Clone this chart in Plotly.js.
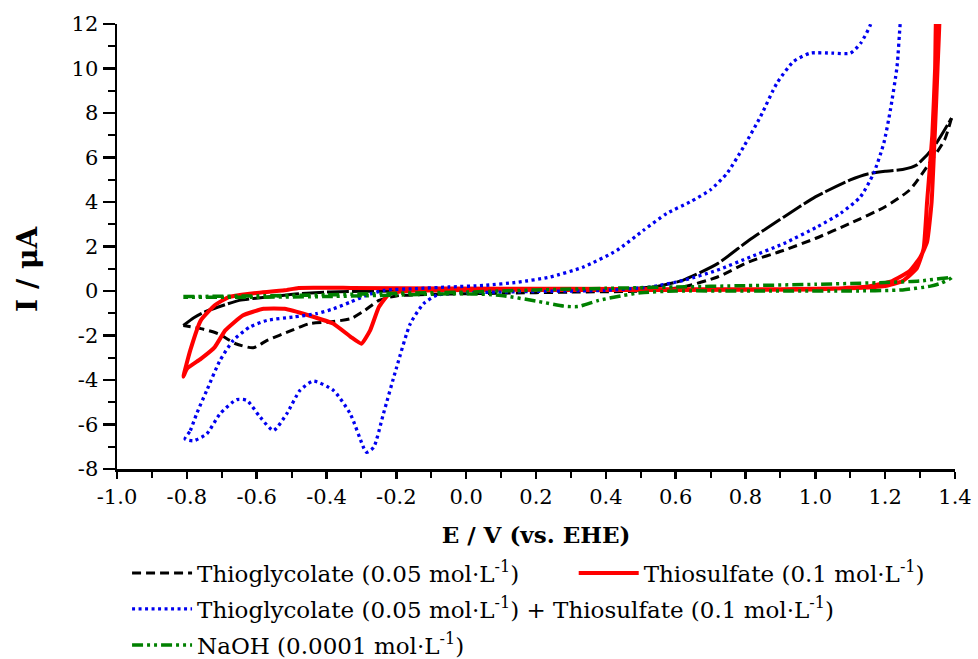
<!DOCTYPE html>
<html><head><meta charset="utf-8">
<script src="https://cdn.plot.ly/plotly-3.0.1.min.js"></script>
<style>body{margin:0;background:#fff}</style>
</head><body>
<div id="chart" style="width:978px;height:659px"></div>
<script>
// ---------- data (E in V vs. EHE, I in µA) ----------
const seriesNames = [
  "Thioglycolate (0.05 mol·L<sup>-1</sup>)",
  "Thiosulfate (0.1 mol·L<sup>-1</sup>)",
  "Thioglycolate (0.05 mol·L<sup>-1</sup>) + Thiosulfate (0.1 mol·L<sup>-1</sup>)",
  "NaOH (0.0001 mol·L<sup>-1</sup>)"
];

// Thioglycolate: forward (anodic) scan
const thioglyFwdE = [-0.81, -0.78, -0.75, -0.71, -0.65, -0.57, -0.48, -0.39, -0.2, 0.0, 0.2, 0.4, 0.5, 0.55, 0.62, 0.72, 0.81, 0.91, 1.0, 1.1, 1.15, 1.2, 1.25, 1.29, 1.34, 1.39];
const thioglyFwdI = [-1.55, -1.2, -0.95, -0.72, -0.42, -0.27, -0.12, -0.04, 0.0, 0.05, 0.08, 0.1, 0.13, 0.22, 0.48, 1.23, 2.28, 3.33, 4.23, 4.99, 5.26, 5.38, 5.46, 5.66, 6.49, 7.77];
// Thioglycolate: reverse (cathodic) scan
const thioglyRevE = [1.39, 1.37, 1.32, 1.27, 1.2, 1.1, 1.0, 0.91, 0.81, 0.72, 0.62, 0.5, 0.3, 0.1, -0.1, -0.2, -0.25, -0.29, -0.33, -0.39, -0.45, -0.5, -0.57, -0.61, -0.66, -0.71, -0.76, -0.81];
const thioglyRevI = [7.77, 6.79, 5.59, 4.54, 3.79, 3.04, 2.36, 1.83, 1.31, 0.63, 0.18, 0.0, -0.05, -0.1, -0.15, -0.22, -0.42, -0.87, -1.24, -1.39, -1.47, -1.77, -2.22, -2.55, -2.37, -1.92, -1.69, -1.55];

// Thiosulfate: full loop
const thiosulfE = [-0.81, -0.79, -0.76, -0.72, -0.68, -0.62, -0.52, -0.48, -0.33, -0.05, 0.3, 0.6, 0.9, 1.1, 1.2, 1.25, 1.29, 1.31, 1.32, 1.335, 1.343, 1.35,
                   1.357, 1.35, 1.342, 1.333, 1.32, 1.3, 1.27, 1.22, 1.15, 1.0, 0.6, 0.2, 0.0, -0.15, -0.22, -0.25, -0.275, -0.3, -0.33, -0.38, -0.45, -0.52, -0.58, -0.64, -0.69, -0.72, -0.76, -0.8, -0.81];
const thiosulfI = [-3.85, -2.66, -1.32, -0.64, -0.27, -0.12, 0.03, 0.14, 0.14, 0.11, 0.1, 0.08, 0.08, 0.12, 0.22, 0.45, 1.0, 1.9, 4.0, 7.0, 10.0, 14.0,
                   14.0, 10.0, 7.0, 4.0, 2.2, 1.5, 0.9, 0.45, 0.2, 0.07, 0.05, 0.05, 0.05, 0.02, -0.12, -0.72, -1.77, -2.37, -2.07, -1.47, -1.1, -0.8, -0.8, -1.1, -1.77, -2.52, -3.05, -3.5, -3.85];

// Thioglycolate + Thiosulfate: full loop
const mixE = [-0.805, -0.79, -0.772, -0.743, -0.705, -0.667, -0.62, -0.57, -0.495, -0.43, -0.38, -0.332, -0.285, -0.237, -0.14, -0.05, 0.05, 0.15, 0.24, 0.336, 0.432, 0.508, 0.575, 0.642, 0.699, 0.747, 0.795, 0.843, 0.89, 0.938, 0.986, 1.05, 1.1, 1.13, 1.158, 1.175, 1.2,
              1.25, 1.25, 1.243, 1.234, 1.215, 1.196, 1.167, 1.129, 1.072, 1.005, 0.909, 0.814, 0.718, 0.623, 0.527, 0.4, 0.2, 0.0, -0.05, -0.084, -0.122, -0.16, -0.199, -0.237, -0.265, -0.285, -0.294, -0.332, -0.38, -0.438, -0.476, -0.514, -0.552, -0.59, -0.628, -0.657, -0.705, -0.743, -0.781, -0.805];
const mixI = [-6.65, -6.27, -5.52, -4.47, -3.12, -2.22, -1.62, -1.32, -1.17, -1.02, -0.8, -0.5, -0.19, 0.03, 0.11, 0.18, 0.25, 0.4, 0.63, 1.08, 1.83, 2.73, 3.49, 4.01, 4.54, 5.29, 6.49, 7.84, 9.34, 10.32, 10.69, 10.69, 10.69, 11.14, 11.97, 13.0, 16.0,
              16.0, 13.0, 12.0, 10.09, 8.14, 6.64, 5.29, 4.23, 3.49, 2.88, 2.13, 1.53, 0.93, 0.48, 0.18, 0.03, -0.02, -0.08, -0.12, -0.19, -0.57, -1.47, -3.42, -5.52, -7.03, -7.25, -7.03, -5.52, -4.47, -4.05, -4.47, -5.52, -6.27, -5.67, -4.92, -4.88, -5.52, -6.42, -6.73, -6.65];

// NaOH: full loop
const naohE = [-0.81, -0.6, -0.4, -0.2, 0.0, 0.2, 0.4, 0.6, 0.8, 1.0, 1.2, 1.3, 1.39,
               1.36, 1.33, 1.25, 1.1, 0.8, 0.6, 0.5, 0.45, 0.38, 0.32, 0.28, 0.2, 0.1, 0.0, -0.2, -0.4, -0.6, -0.81];
const naohI = [-0.25, -0.22, -0.17, -0.1, -0.05, 0.05, 0.12, 0.18, 0.24, 0.3, 0.38, 0.45, 0.6,
               0.35, 0.22, 0.05, 0.0, 0.0, 0.0, -0.08, -0.2, -0.42, -0.7, -0.68, -0.45, -0.2, -0.12, -0.18, -0.25, -0.28, -0.28];

// ticks
const xTickVals = [-1.0, -0.8, -0.6, -0.4, -0.2, 0.0, 0.2, 0.4, 0.6, 0.8, 1.0, 1.2, 1.4];
const xTickText = ["-1.0", "-0.8", "-0.6", "-0.4", "-0.2", "0.0", "0.2", "0.4", "0.6", "0.8", "1.0", "1.2", "1.4"];
const yTickVals = [-8, -6, -4, -2, 0, 2, 4, 6, 8, 10, 12];
const yTickText = ["-8", "-6", "-4", "-2", "0", "2", "4", "6", "8", "10", "12"];

const xTitle = "<b>E / V (vs. EHE)</b>";
const yTitle = "<b>I / μA</b>";

// ---------- plot ----------
const FONT = "DejaVu Serif, Liberation Serif, serif";
const sm = 0.6;
const traces = [
  {x: thioglyFwdE, y: thioglyFwdI, mode: "lines", name: seriesNames[0], legendgroup: "a", showlegend: false,
   line: {color: "#000000", width: 3, dash: "22px,3px", shape: "spline", smoothing: sm}},
  {x: thioglyRevE, y: thioglyRevI, mode: "lines", name: seriesNames[0], legendgroup: "a", legend: "legend",
   line: {color: "#000000", width: 3, dash: "9px,5px", shape: "spline", smoothing: sm}},
  {x: thiosulfE, y: thiosulfI, mode: "lines", name: seriesNames[1], legend: "legend4",
   line: {color: "#ff0000", width: 4, shape: "spline", smoothing: 0.4}},
  {x: mixE, y: mixI, mode: "lines", name: seriesNames[2], legend: "legend2",
   line: {color: "#0000f0", width: 3.3, dash: "3px,3.5px", shape: "spline", smoothing: sm}},
  {x: naohE, y: naohI, mode: "lines", name: seriesNames[3], legend: "legend3",
   line: {color: "#008000", width: 3.5, dash: "11px,4px,3px,4px,3px,4px", shape: "spline", smoothing: sm}}
];

const axisCommon = {
  showgrid: false, zeroline: false, showline: true, linecolor: "#000", linewidth: 2.5,
  ticks: "outside", tickcolor: "#000", tickwidth: 2.5, automargin: false,
  tickfont: {family: FONT, size: 21, color: "#000"}
};

function legendAt(xPaper, yPaper) {
  return {
    orientation: "h", x: xPaper, xanchor: "left", y: yPaper, yanchor: "middle",
    xref: "paper", yref: "paper", itemwidth: 60,
    font: {family: FONT, size: 23, color: "#000"}, bgcolor: "rgba(0,0,0,0)", traceorder: "normal"
  };
}

const layout = {
  width: 978, height: 659,
  margin: {l: 117, r: 23, t: 24, b: 190, autoexpand: false},
  paper_bgcolor: "#fff", plot_bgcolor: "#fff",
  font: {family: FONT, color: "#000"},
  xaxis: Object.assign({}, axisCommon, {
    range: [-1.0, 1.4], tickmode: "array", tickvals: xTickVals, ticktext: xTickText, ticklen: 7,
    minor: {dtick: 0.1, tick0: 0, ticks: "outside", ticklen: 6, tickwidth: 2, tickcolor: "#000", showgrid: false},
    title: {text: xTitle, font: {family: FONT, size: 23, color: "#000"}, standoff: 19}
  }),
  yaxis: Object.assign({}, axisCommon, {
    range: [-8, 12], tickmode: "array", tickvals: yTickVals, ticktext: yTickText, ticklen: 12,
    minor: {dtick: 1, tick0: 0, ticks: "outside", ticklen: 7, tickwidth: 2, tickcolor: "#000", showgrid: false}
  }),
  annotations: [{
    text: yTitle, xref: "paper", yref: "paper", x: -0.106, y: 0.45, textangle: -90,
    showarrow: false, xanchor: "center", yanchor: "middle",
    font: {family: FONT, size: 28, color: "#000"}
  }],
  legend: legendAt(0.012, -0.2337),
  legend4: legendAt(0.545, -0.2337),
  legend2: legendAt(0.012, -0.3146),
  legend3: legendAt(0.012, -0.3955),
  showlegend: true
};

Plotly.newPlot("chart", traces, layout, {displayModeBar: false, staticPlot: true});
</script>
</body></html>
